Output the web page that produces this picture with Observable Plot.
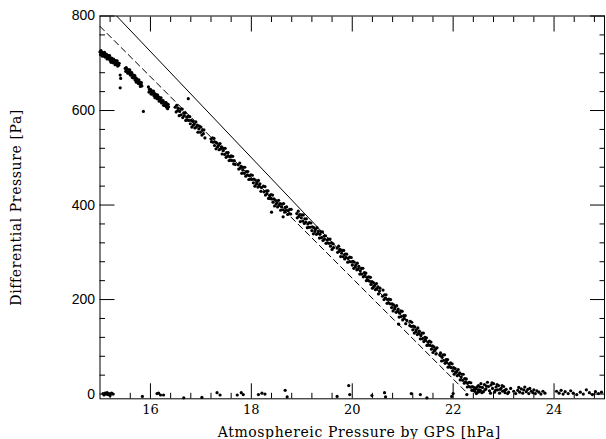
<!DOCTYPE html>
<html><head><meta charset="utf-8">
<script src="https://cdn.jsdelivr.net/npm/d3@7"></script>
<script src="https://cdn.jsdelivr.net/npm/@observablehq/plot@0.6"></script>
<style>
body{margin:0;background:#fff}
svg g[aria-label="text"] text{letter-spacing:0.6px}
</style>
</head><body><div id="chart"></div>
<script>
// Measured points along the descending band: [GPS pressure hPa, differential pressure Pa]
const bandPoints = [
[15.00,724],[15.01,718],[15.02,727],[15.03,720],[15.04,723],[15.05,715],[15.06,719],[15.07,722],[15.08,716],[15.09,723],
[15.10,713],[15.11,718],[15.12,715],[15.13,719],[15.14,709],[15.15,714],[15.16,710],[15.17,716],[15.18,710],[15.19,716],
[15.20,706],[15.21,711],[15.22,702],[15.23,711],[15.24,705],[15.25,707],[15.26,701],[15.27,709],[15.28,703],[15.29,706],
[15.30,697],[15.31,701],[15.32,705],[15.33,698],[15.34,705],[15.35,694],[15.36,700],[15.37,696],[15.38,700],
[15.40,675],[15.41,668],
[15.50,689],[15.51,683],[15.52,691],[15.53,684],[15.54,687],[15.55,679],[15.56,683],[15.57,686],[15.58,679],[15.59,686],
[15.60,675],[15.61,680],[15.62,676],[15.63,680],[15.64,670],[15.65,675],[15.66,669],[15.67,675],[15.68,669],[15.69,674],
[15.70,664],[15.71,669],[15.72,660],[15.73,667],[15.74,661],[15.75,663],[15.76,657],[15.77,665],[15.78,657],[15.79,660],
[15.80,651],[15.81,655],[15.82,659],[15.83,652],
[15.96,650],[15.97,639],[15.98,645],[15.99,641],[16.00,645],[16.01,635],[16.02,640],[16.03,635],[16.04,641],[16.05,635],
[16.06,641],[16.07,631],[16.08,636],[16.09,627],[16.10,635],[16.11,629],[16.12,631],[16.13,625],[16.14,633],[16.15,626],
[16.16,629],[16.17,620],[16.18,624],[16.19,627],[16.20,620],[16.21,627],[16.22,616],[16.23,621],[16.24,617],[16.25,621],
[16.26,611],[16.27,616],[16.28,611],[16.29,617],[16.30,611],[16.31,617],[16.32,607],[16.33,613],[16.34,604],[16.35,613],
[16.36,608],
[16.49,607],[16.51,597],[16.52,611],[16.54,600],[16.55,605],[16.57,589],[16.58,598],[16.60,603],[16.61,591],[16.63,603],
[16.64,585],[16.66,595],[16.67,589],[16.69,595],[16.70,579],[16.72,586],[16.73,580],[16.75,588],[16.76,579],[16.78,587],
[16.79,572],[16.81,579],[16.82,565],[16.84,577],[16.85,569],[16.87,572],[16.88,563],[16.90,576],[16.91,565],[16.93,569],
[16.94,554],[16.96,561],[16.97,567],[16.99,554],[17.00,565],[17.02,548],[17.03,558],[17.05,551],[17.06,559],[17.08,542],
[17.20,540],[17.21,534],[17.23,542],[17.24,533],[17.26,541],[17.27,526],[17.29,533],[17.30,519],[17.32,531],[17.33,523],
[17.35,526],[17.36,517],[17.38,530],[17.39,519],[17.41,523],[17.42,508],[17.44,515],[17.45,520],[17.47,507],[17.48,520],
[17.50,501],[17.51,511],[17.53,504],[17.54,511],[17.56,494],[17.57,502],[17.59,495],[17.60,504],[17.62,494],[17.63,503],
[17.65,487],[17.66,494],[17.68,486],
[17.74,485],[17.75,476],[17.77,489],[17.78,478],[17.80,482],[17.81,467],[17.83,474],[17.84,480],[17.86,467],[17.87,480],
[17.89,461],[17.90,471],[17.92,464],[17.93,471],[17.95,454],[17.96,462],[17.98,455],[17.99,464],[18.01,454],[18.02,463],
[18.04,447],[18.05,455],[18.07,440],[18.08,453],[18.10,444],[18.11,448],[18.13,438],[18.14,452],[18.16,440],[18.17,445],
[18.19,429],[18.20,437],
[18.24,440],[18.25,428],[18.27,439],[18.28,421],[18.30,430],[18.31,424],[18.33,430],[18.34,414],[18.36,420],[18.37,414],
[18.39,422],[18.40,413],[18.42,421],[18.43,406],[18.45,413],[18.46,398],[18.48,410],[18.49,402],[18.51,405],[18.52,396],
[18.54,410],[18.55,399],[18.57,403],[18.58,389],[18.60,396],[18.61,402],[18.63,390],[18.64,403],[18.66,385],[18.67,395],
[18.69,389],[18.70,396],[18.72,380],[18.73,388],[18.75,382],[18.76,391],[18.78,381],[18.79,391],
[18.90,382],[18.91,373],[18.93,387],[18.94,376],[18.96,380],[18.97,365],[18.99,373],[19.00,379],[19.02,366],[19.03,379],
[19.05,361],[19.06,371],[19.08,364],[19.09,371],[19.11,352],[19.12,360],[19.14,353],[19.15,363],[19.17,353],[19.18,362],
[19.20,346],[19.21,354],[19.23,339],[19.24,352],[19.26,344],[19.27,348],[19.29,338],[19.30,352],[19.32,340],[19.33,345],
[19.35,330],[19.36,338],[19.38,343],[19.39,331],[19.41,343],[19.42,325],[19.44,334],[19.45,328],[19.47,335],[19.48,319],
[19.50,326],[19.51,320],[19.53,328],[19.54,319],[19.56,328],[19.57,313],[19.59,320],[19.60,306],[19.62,318],[19.63,310],
[19.70,309],[19.71,300],[19.73,313],[19.74,302],[19.76,306],[19.77,291],[19.79,298],[19.80,304],[19.82,291],[19.83,304],
[19.85,286],[19.86,296],[19.88,289],[19.89,296],[19.91,279],[19.92,287],[19.94,280],[19.95,290],[19.97,280],[19.98,289],
[20.00,273],[20.01,281],[20.03,266],[20.04,279],[20.06,269],[20.07,273],[20.09,263],[20.10,277],[20.12,265],[20.13,270],
[20.15,254],[20.16,261],[20.18,266],[20.19,254],[20.21,266],[20.22,248],[20.24,257],[20.25,251],[20.27,256],[20.28,240],
[20.30,247],[20.31,241],[20.33,248],[20.34,239],[20.36,247],[20.37,232],[20.39,238],[20.40,224],[20.42,236],[20.43,228],
[20.45,231],[20.46,221],[20.48,234],[20.49,223],[20.51,227],[20.52,212],[20.54,218],[20.55,224],
[20.60,207],[20.61,220],[20.63,200],[20.64,210],[20.66,203],[20.67,210],[20.69,192],[20.70,200],[20.72,193],[20.73,201],
[20.75,191],[20.76,200],[20.78,183],[20.79,191],[20.81,176],[20.82,189],[20.84,180],[20.85,184],[20.87,173],[20.88,187],
[20.90,175],[20.91,180],[20.93,163],[20.94,171],[20.96,176],[20.97,164],[20.99,175],[21.00,157],[21.02,166],[21.03,160],
[21.05,166],[21.06,149],[21.08,156],
[21.14,145],[21.15,154],[21.17,143],[21.18,152],[21.20,136],[21.21,144],[21.23,129],[21.24,142],[21.26,132],[21.27,136],
[21.29,126],[21.30,140],[21.32,128],[21.33,133],[21.35,117],[21.36,124],[21.38,129],[21.39,117],[21.41,129],[21.42,111],
[21.44,120],[21.45,114],[21.47,119],[21.48,103],[21.50,110],[21.51,104],[21.53,112],[21.54,103],[21.56,110],[21.57,95],
[21.59,102],[21.60,88],[21.62,100],[21.63,92],[21.65,95],[21.66,85],[21.68,98],
[21.74,82],[21.75,87],[21.77,70],[21.78,78],[21.80,83],[21.81,71],[21.83,83],[21.84,65],[21.86,73],[21.87,67],
[21.89,73],[21.90,57],[21.92,64],[21.93,58],[21.95,66],[21.96,56],[21.98,64],[21.99,49],[22.01,56],[22.02,42],
[22.04,54],[22.05,46],[22.07,48],[22.08,39],[22.10,52],[22.11,41],[22.13,45],[22.14,30],[22.16,36],[22.17,42],
[22.19,29],[22.20,42],[22.22,23],[22.23,33],[22.25,26],[22.26,32],[22.28,15],[22.29,23],[22.31,16],[22.32,25],
[22.34,15],[22.35,24],[22.37,8],[22.38,16],[22.40,8],[22.41,14],[22.43,6],[22.44,10],[22.46,1],[22.47,15],
[22.49,4],[22.50,9],[22.52,5],[22.54,8]
];
// Isolated points away from the band
const outlierPoints = [[15.40,648],[15.86,598],[16.75,625],[18.40,385],[18.63,375],[20.92,148]];
// Points near zero after the band reaches the axis
const tailPoints = [
[22.45,12],[22.50,18],[22.52,8],[22.53,15],[22.55,22],[22.57,3],[22.58,14],[22.60,5],[22.62,20],[22.63,9],
[22.65,11],[22.66,17],[22.68,25],[22.70,16],[22.72,7],[22.74,2],[22.75,19],[22.77,24],[22.78,12],[22.80,22],
[22.82,4],[22.84,8],[22.85,15],[22.87,20],[22.88,9],[22.90,18],[22.92,2],[22.93,10],[22.95,12],[22.97,18],
[22.98,6],[23.00,16],[23.02,8],[23.03,3],[23.05,10],[23.08,1],[23.10,4],[23.14,12],[23.20,6],[23.24,1],
[23.28,8],[23.30,14],[23.32,4],[23.35,11],[23.38,2],[23.40,9],[23.42,15],[23.45,5],[23.48,10],[23.50,1],
[23.52,12],[23.55,6],[23.58,3],[23.60,9],[23.63,1],[23.66,7],[23.70,4],[23.74,0],[23.78,6],[23.82,2],
[24.05,6],[24.10,2],[24.14,8],[24.18,0],[24.22,5],[24.28,1],[24.33,7],[24.38,2],[24.45,-1],[24.52,4],
[24.58,0],[24.64,9],[24.70,3],[24.76,-1],[24.82,5],[24.88,1],[24.94,4]
];
// Scattered near-zero readings along the ascent
const zeroPoints = [
[15.06,1],[15.08,-2],[15.10,2],[15.12,0],[15.14,3],[15.16,-1],[15.18,1],[15.20,-3],[15.23,2],[15.26,0],
[15.84,-5],[16.13,1],[16.16,2],[16.20,-2],[16.26,-2],[16.66,-8],[17.02,-7],[17.32,3],[17.38,-2],[17.72,-2],
[17.80,3],[17.84,-1],[18.14,-1],[18.21,2],[18.27,0],[18.67,8],[18.71,-6],[19.70,-5],[19.93,18],[19.95,-1],
[20.39,-3],[20.64,3],[20.66,-6],[21.17,1],[21.35,-1],[21.48,-8],[21.97,-5],[22.00,1],[22.27,-1]
];
// Reference lines
const solidLine = [[15.33,800],[22.46,0]];
const dashedLine = [[15.00,778],[22.30,0]];
// Ticks
const xMajor = [16,18,20,22,24];
const xMinor = [15.2,15.6,16.4,16.8,17.2,17.6,18.4,18.8,19.2,19.6,20.4,20.8,21.2,21.6,22.4,22.8,23.2,23.6,24.4,24.8];
const yMajor = [0,200,400,600,800];
const yMinor = [40,80,120,160,240,280,320,360,440,480,520,560,640,680,720,760];
const xTitle = "Atmosphereic Pressure by GPS [hPa]";
const yTitle = "Differential Pressure [Pa]";

const allPoints = [...bandPoints, ...outlierPoints, ...tailPoints, ...zeroPoints];
const serif = "DejaVu Serif";
const sans = "Liberation Sans";

const chart = Plot.plot({
  width: 606, height: 439,
  marginLeft: 99.5, marginRight: 2, marginTop: 15.5, marginBottom: 40.7,
  x: {domain: [15, 25], label: null},
  y: {domain: [-10, 800], label: null},
  style: {background: "#fff", color: "#000"},
  marks: [
    Plot.frame({stroke: "#000", strokeWidth: 1}),
    // inward ticks on all four sides
    Plot.axisX(xMajor, {anchor: "bottom", tickSize: -15, tickFormat: () => "", label: null}),
    Plot.axisX(xMinor, {anchor: "bottom", tickSize: -5.5, tickFormat: () => "", label: null}),
    Plot.axisX(xMajor, {anchor: "top", tickSize: -15, tickFormat: () => "", label: null}),
    Plot.axisX(xMinor, {anchor: "top", tickSize: -5.5, tickFormat: () => "", label: null}),
    Plot.axisY(yMajor, {anchor: "left", tickSize: -15, tickFormat: () => "", label: null}),
    Plot.axisY(yMinor, {anchor: "left", tickSize: -5.5, tickFormat: () => "", label: null}),
    Plot.axisY(yMajor, {anchor: "right", tickSize: -15, tickFormat: () => "", label: null}),
    Plot.axisY(yMinor, {anchor: "right", tickSize: -5.5, tickFormat: () => "", label: null}),
    // tick labels
    Plot.axisX(xMajor, {anchor: "bottom", tickSize: 0, tickPadding: 6, tickFormat: d => String(d), label: null,
      fontFamily: serif, fontSize: 13}),
    Plot.axisY(yMajor, {anchor: "left", tickSize: 0, tickPadding: 5, tickFormat: d => String(d), label: null,
      fontFamily: sans, fontSize: 14}),
    // reference lines
    Plot.line(solidLine, {x: d => d[0], y: d => d[1], stroke: "#000", strokeWidth: 1}),
    Plot.line(dashedLine, {x: d => d[0], y: d => d[1], stroke: "#000", strokeWidth: 1, strokeDasharray: "6,4"}),
    // measurements
    Plot.dot(allPoints, {x: d => d[0], y: d => d[1], r: 1.6, fill: "#000", stroke: null}),
    // axis titles
    Plot.text([xTitle], {frameAnchor: "bottom", textAnchor: "middle", lineAnchor: "middle", dy: 33.7, dx: 7,
      fontFamily: serif, fontSize: 14, fill: "#000"}),
    Plot.text([yTitle], {frameAnchor: "left", textAnchor: "middle", lineAnchor: "middle", rotate: -90,
      dx: -83.5, dy: 0, fontFamily: serif, fontSize: 14, fill: "#000"})
  ]
});
document.getElementById("chart").appendChild(chart);
</script>
</body></html>
